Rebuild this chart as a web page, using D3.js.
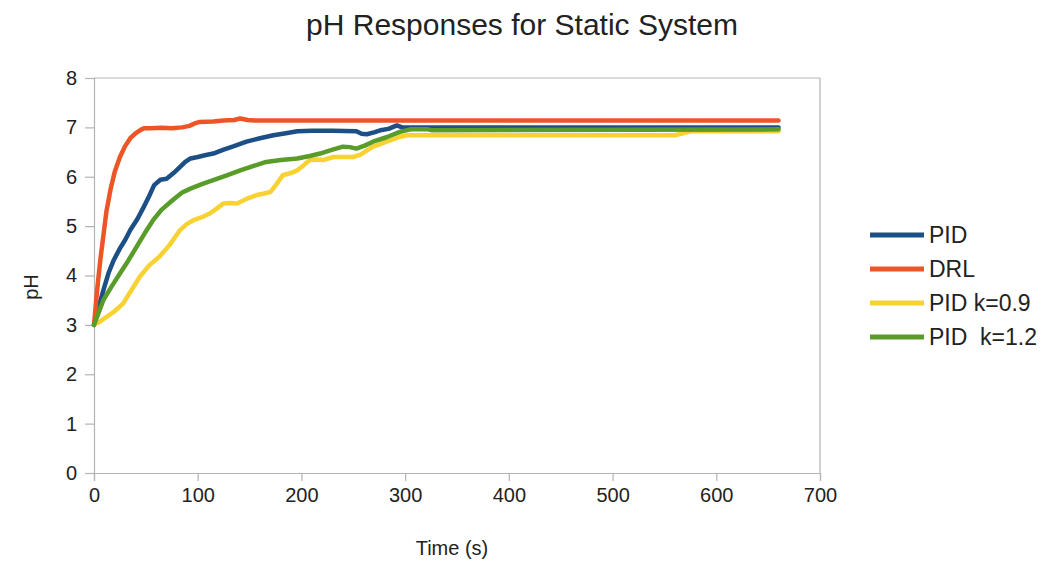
<!DOCTYPE html>
<html lang="en">
<head>
<meta charset="UTF-8">
<title>pH Responses for Static System</title>
<style>
  body { margin: 0; background: #fff; }
  text { font-family: "Liberation Sans", Arial, sans-serif; fill: #222; }
</style>
</head>
<body>
<svg width="1053" height="564"></svg>
<script src="https://d3js.org/d3.v7.min.js"></script>
<script>
// series data (time in s, pH)
var pidT = [0, 5, 9, 14, 19, 25, 30, 35, 42, 48, 53, 58, 64, 70, 77, 83, 88, 93, 100, 108, 115, 125, 135, 147, 160, 173, 185, 196, 210, 230, 253, 258, 263, 270, 276, 284, 292, 297, 660];
var pidPH = [3.0, 3.4, 3.7, 4.05, 4.31, 4.55, 4.72, 4.92, 5.15, 5.39, 5.6, 5.83, 5.94, 5.96, 6.08, 6.2, 6.3, 6.37, 6.4, 6.44, 6.47, 6.55, 6.62, 6.71, 6.78, 6.84, 6.88, 6.92, 6.93, 6.93, 6.92, 6.87, 6.86, 6.9, 6.94, 6.97, 7.04, 7.0, 7.0];

var drlT = [0, 3, 6, 9, 12, 16, 20, 25, 30, 35, 40, 45, 48, 55, 65, 75, 85, 92, 97, 102, 115, 125, 135, 141, 148, 155, 660];
var drlPH = [3.0, 3.7, 4.3, 4.8, 5.3, 5.75, 6.1, 6.4, 6.62, 6.78, 6.88, 6.95, 6.98, 6.98, 6.99, 6.98, 7.0, 7.03, 7.08, 7.11, 7.12, 7.14, 7.15, 7.18, 7.15, 7.14, 7.14];

var k09T = [0, 6, 12, 20, 28, 36, 44, 53, 63, 73, 83, 90, 96, 104, 112, 118, 125, 131, 138, 147, 157, 164, 170, 176, 182, 189, 196, 202, 208, 215, 221, 226, 231, 240, 250, 257, 263, 269, 276, 282, 289, 295, 302, 560, 568, 575, 660];
var k09PH = [3.0, 3.07, 3.16, 3.28, 3.43, 3.7, 3.97, 4.2, 4.38, 4.62, 4.92, 5.05, 5.12, 5.18, 5.26, 5.35, 5.46, 5.47, 5.46, 5.55, 5.63, 5.66, 5.69, 5.85, 6.03, 6.07, 6.13, 6.23, 6.34, 6.35, 6.34, 6.37, 6.4, 6.4, 6.4, 6.45, 6.53, 6.61, 6.66, 6.71, 6.76, 6.81, 6.84, 6.84, 6.88, 6.92, 6.92];

var k12T = [0, 9, 17, 25, 33, 41, 49, 57, 65, 76, 85, 93, 104, 115, 128, 141, 154, 166, 180, 196, 208, 218, 230, 240, 247, 253, 261, 269, 282, 295, 305, 322, 326, 660];
var k12PH = [3.0, 3.5, 3.78, 4.04, 4.3, 4.58, 4.86, 5.12, 5.33, 5.53, 5.68, 5.76, 5.85, 5.93, 6.03, 6.13, 6.22, 6.3, 6.34, 6.37, 6.42, 6.47, 6.55, 6.61, 6.6, 6.57, 6.63, 6.71, 6.8, 6.91, 6.96, 6.96, 6.94, 6.96];

var seriesNames = ["PID", "DRL", "PID k=0.9", "PID  k=1.2"];
var seriesColors = ["#1c4f86", "#ee5526", "#f7d232", "#5a9c2a"];
var xTicks = [0, 100, 200, 300, 400, 500, 600, 700];
var yTicks = [0, 1, 2, 3, 4, 5, 6, 7, 8];

var series = [
  { name: seriesNames[0], t: pidT, v: pidPH },
  { name: seriesNames[1], t: drlT, v: drlPH },
  { name: seriesNames[2], t: k09T, v: k09PH },
  { name: seriesNames[3], t: k12T, v: k12PH }
];

var svg = d3.select("svg");
var plotL = 94, plotR = 820, plotT = 78, plotB = 473;

var x = d3.scaleLinear().domain([0, 700]).range([plotL, plotR]);
var y = d3.scaleLinear().domain([0, 8]).range([plotB, plotT]);

var gridColor = "#b3b3b3";

// frame: top and right edges
svg.append("line")
  .attr("x1", plotL).attr("x2", plotR).attr("y1", plotT).attr("y2", plotT)
  .attr("stroke", gridColor).attr("stroke-width", 1.2);
svg.append("line")
  .attr("x1", plotR).attr("x2", plotR).attr("y1", plotT).attr("y2", plotB)
  .attr("stroke", gridColor).attr("stroke-width", 1.2);

// axes
var xAxis = svg.append("g")
  .attr("transform", "translate(0," + plotB + ")")
  .call(d3.axisBottom(x).tickValues(xTicks).tickSize(8).tickPadding(7));
var yAxis = svg.append("g")
  .attr("transform", "translate(" + plotL + ",0)")
  .call(d3.axisLeft(y).tickValues(yTicks).tickSize(9).tickPadding(8));

[xAxis, yAxis].forEach(function(a) {
  a.select(".domain").attr("stroke", gridColor).attr("stroke-width", 1.2);
  a.selectAll(".tick line").attr("stroke", gridColor).attr("stroke-width", 1.2);
  a.selectAll("text")
    .style("font-family", "'Liberation Sans', Arial, sans-serif")
    .style("font-size", "20px").attr("fill", "#222");
});

// lines
var line = d3.line()
  .x(function(d) { return x(d[0]); })
  .y(function(d) { return y(d[1]); });

svg.append("g").selectAll("path")
  .data(series)
  .enter().append("path")
  .attr("d", function(s) { return line(s.t.map(function(t, i) { return [t, s.v[i]]; })); })
  .attr("fill", "none")
  .attr("stroke", function(s, i) { return seriesColors[i]; })
  .attr("stroke-width", 4.5)
  .attr("stroke-linejoin", "round")
  .attr("stroke-linecap", "round");

// title
svg.append("text")
  .attr("x", 522).attr("y", 35)
  .attr("text-anchor", "middle")
  .style("font-size", "30px")
  .text("pH Responses for Static System");

// axis titles
svg.append("text")
  .attr("x", 452).attr("y", 555)
  .attr("text-anchor", "middle")
  .style("font-size", "20px")
  .text("Time (s)");
svg.append("text")
  .attr("transform", "translate(38,287) rotate(-90)")
  .attr("text-anchor", "middle")
  .style("font-size", "20px")
  .text("pH");

// legend
var legend = svg.append("g").selectAll("g")
  .data(series)
  .enter().append("g")
  .attr("transform", function(d, i) { return "translate(870," + (235 + i * 34) + ")"; });
legend.append("line")
  .attr("x1", 0).attr("x2", 54)
  .attr("stroke", function(d, i) { return seriesColors[i]; })
  .attr("stroke-width", 5);
legend.append("text")
  .attr("x", 59).attr("dy", "0.36em")
  .style("font-size", "23px")
  .style("white-space", "pre")
  .attr("xml:space", "preserve")
  .text(function(d) { return d.name; });
</script>
</body>
</html>
